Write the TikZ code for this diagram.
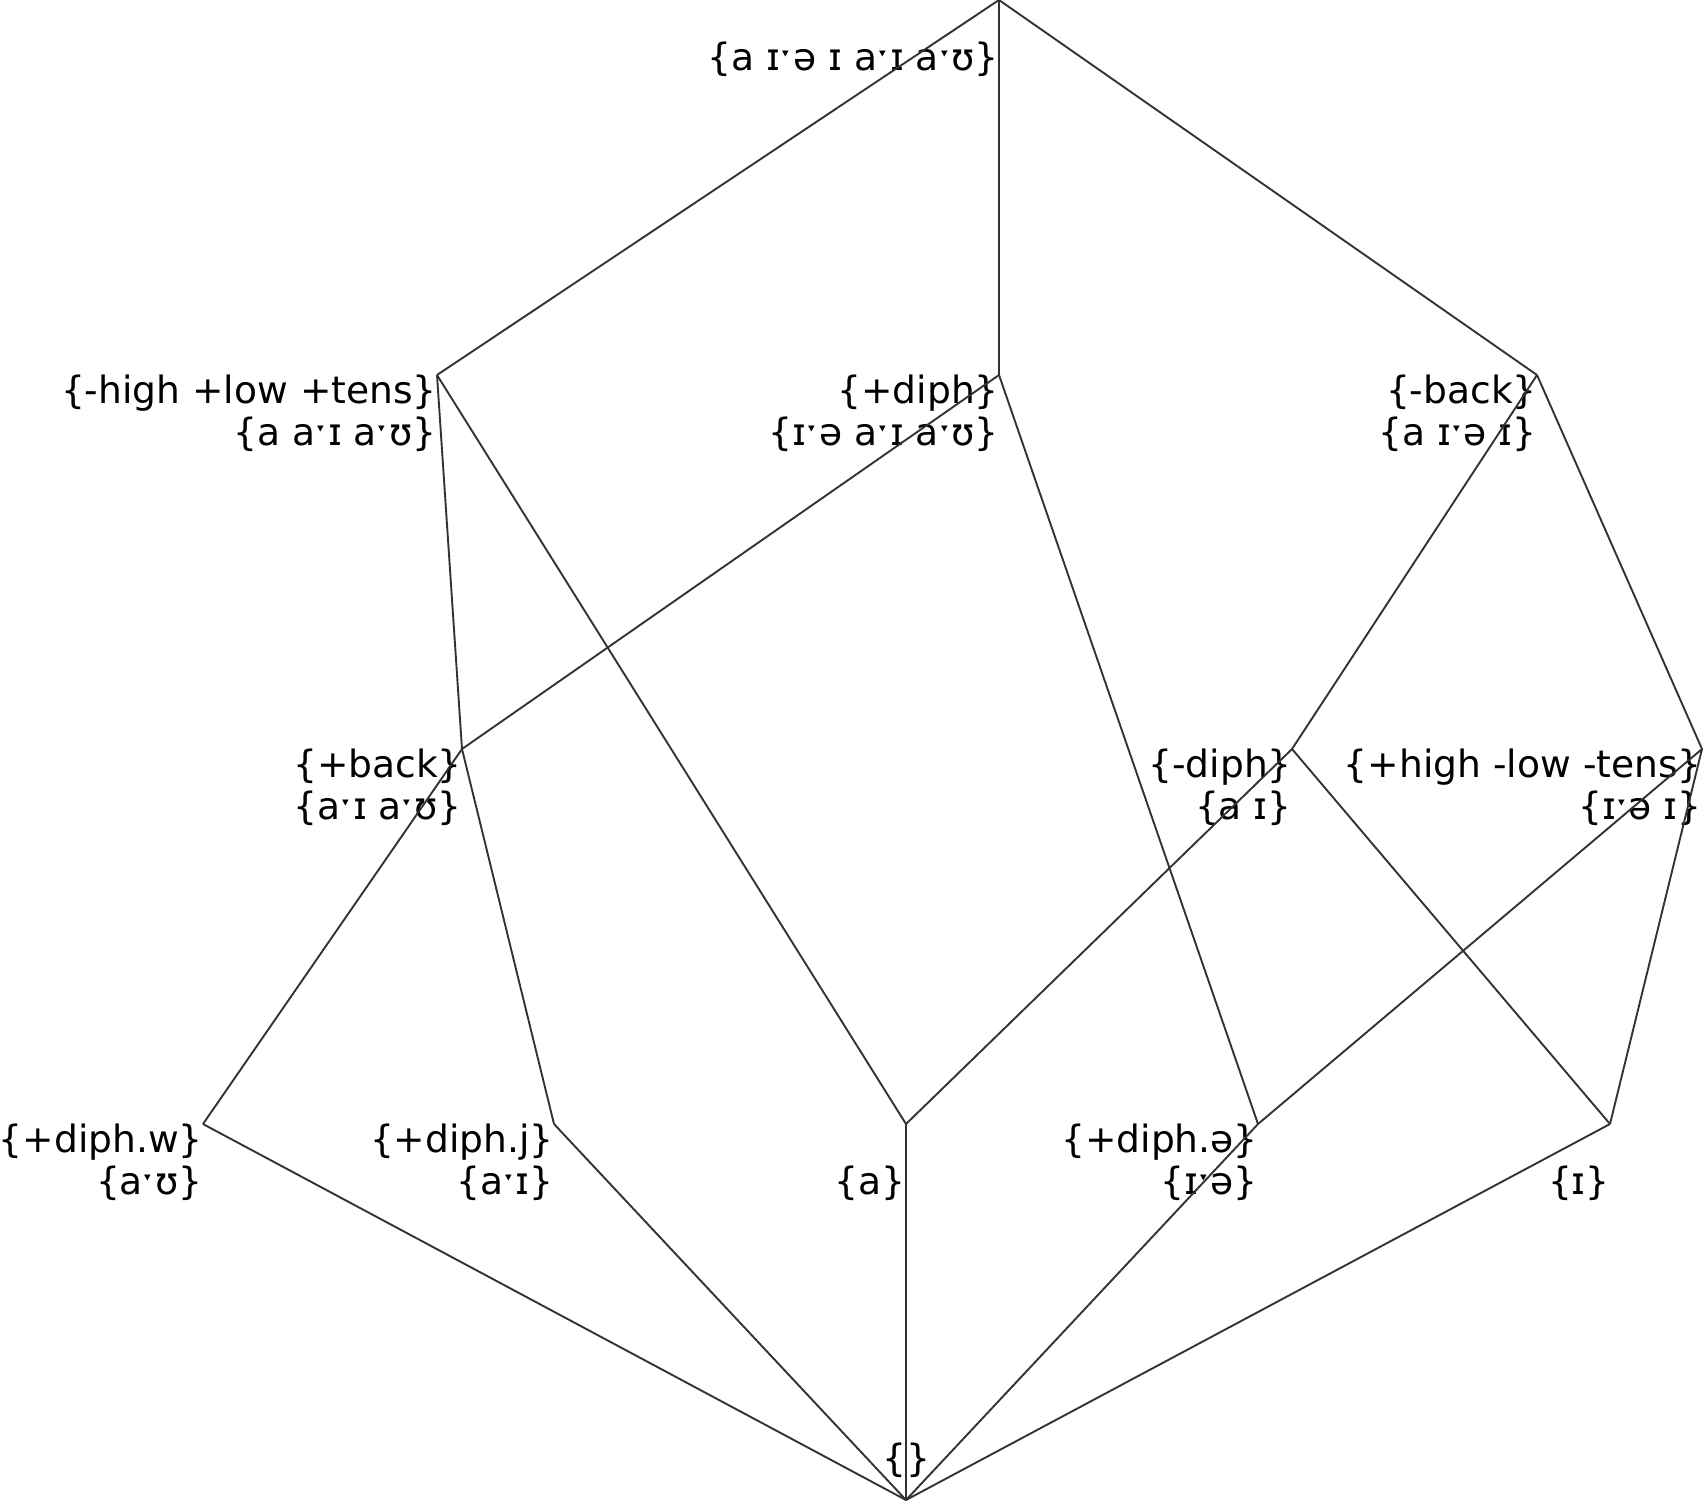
\documentclass[tikz,border=0pt]{standalone}
\usepackage{fontspec}
\setmainfont{DejaVu Sans}
\begin{document}
\begin{tikzpicture}[x=1pt,y=-1pt,
  lab/.style={inner sep=0pt,anchor=base east,font=\fontsize{37.6}{42}\selectfont},
  edge/.style={draw=black!80,line width=1.9pt}]
\useasboundingbox (0,0) rectangle (1703,1500);
% concept points
\coordinate (top) at (999,0);
\coordinate (hlt) at (437,375);
\coordinate (dip) at (999,375);
\coordinate (mback) at (1537,375);
\coordinate (pback) at (462,749);
\coordinate (mdip) at (1292,749);
\coordinate (hlo) at (1702,749);
\coordinate (dw) at (203,1124);
\coordinate (dj) at (554,1124);
\coordinate (ca) at (906,1124);
\coordinate (dschwa) at (1258,1124);
\coordinate (ci) at (1610,1124);
\coordinate (bot) at (906,1500);
% labels
\node[lab] (topE) at ([yshift=-70]top) {\{a ɪˑə ɪ aˑɪ aˑʊ\}};
\node[lab] (hltI) at ([yshift=-28]hlt) {\{-high +low +tens\}};
\node[lab] (hltE) at ([yshift=-70]hlt) {\{a aˑɪ aˑʊ\}};
\node[lab] (dipI) at ([yshift=-28]dip) {\{+diph\}};
\node[lab] (dipE) at ([yshift=-70]dip) {\{ɪˑə aˑɪ aˑʊ\}};
\node[lab] (mbackI) at ([yshift=-28]mback) {\{-back\}};
\node[lab] (mbackE) at ([yshift=-70]mback) {\{a ɪˑə ɪ\}};
\node[lab] (pbackI) at ([yshift=-28]pback) {\{+back\}};
\node[lab] (pbackE) at ([yshift=-70]pback) {\{aˑɪ aˑʊ\}};
\node[lab] (mdipI) at ([yshift=-28]mdip) {\{-diph\}};
\node[lab] (mdipE) at ([yshift=-70]mdip) {\{a ɪ\}};
\node[lab] (hloI) at ([yshift=-28]hlo) {\{+high -low -tens\}};
\node[lab] (hloE) at ([yshift=-70]hlo) {\{ɪˑə ɪ\}};
\node[lab] (dwI) at ([yshift=-28]dw) {\{+diph.w\}};
\node[lab] (dwE) at ([yshift=-70]dw) {\{aˑʊ\}};
\node[lab] (djI) at ([yshift=-28]dj) {\{+diph.j\}};
\node[lab] (djE) at ([yshift=-70]dj) {\{aˑɪ\}};
\node[lab] (caE) at ([yshift=-70]ca) {\{a\}};
\node[lab] (dschwaI) at ([yshift=-28]dschwa) {\{+diph.ə\}};
\node[lab] (dschwaE) at ([yshift=-70]dschwa) {\{ɪˑə\}};
\node[lab] (ciE) at ([yshift=-70]ci) {\{ɪ\}};
\node[lab,anchor=base] (botE) at ([yshift=29]bot) {\{\}};
% edges
\draw[edge] (top) -- (hlt);
\draw[edge] (top) -- (dip);
\draw[edge] (top) -- (mback);
\draw[edge] (hlt) -- (pback);
\draw[edge] (hlt) -- (ca);
\draw[edge] (dip) -- (pback);
\draw[edge] (dip) -- (dschwa);
\draw[edge] (mback) -- (mdip);
\draw[edge] (mback) -- (hlo);
\draw[edge] (pback) -- (dw);
\draw[edge] (pback) -- (dj);
\draw[edge] (mdip) -- (ca);
\draw[edge] (mdip) -- (ci);
\draw[edge] (hlo) -- (dschwa);
\draw[edge] (hlo) -- (ci);
\draw[edge] (dw) -- (bot);
\draw[edge] (dj) -- (bot);
\draw[edge] (ca) -- (bot);
\draw[edge] (dschwa) -- (bot);
\draw[edge] (ci) -- (bot);
\end{tikzpicture}
\end{document}
